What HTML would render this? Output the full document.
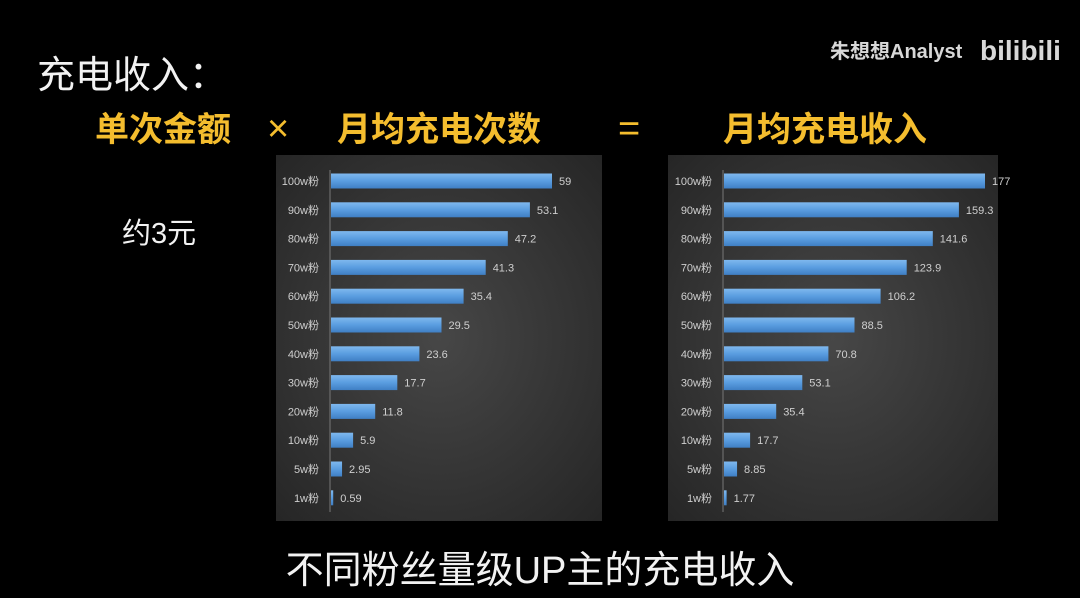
<!DOCTYPE html>
<html><head><meta charset="utf-8"><style>
html,body{margin:0;padding:0;background:#000;width:1080px;height:598px;overflow:hidden}
svg{display:block}
text{font-family:"Liberation Sans","Noto Sans CJK SC",sans-serif}
</style></head><body>
<svg id="s" width="1080" height="598" viewBox="0 0 1080 598" xmlns="http://www.w3.org/2000/svg">
<defs>
<radialGradient id="bg" cx="50%" cy="50%" r="70%">
<stop offset="0" stop-color="#474747"/><stop offset="1" stop-color="#262626"/>
</radialGradient>
<linearGradient id="bar" x1="0" y1="0" x2="0" y2="1">
<stop offset="0" stop-color="#7fb8ee"/><stop offset="0.5" stop-color="#5a9de0"/><stop offset="1" stop-color="#3f7fc4"/>
</linearGradient>
</defs>
<text x="37" y="88" font-size="38" fill="#f2f2f2">充电收入：</text>
<g font-size="34" fill="#f4bd2e" font-weight="bold">
<text x="95" y="141">单次金额</text>
<text x="267" y="141" font-weight="normal" font-size="38">×</text>
<text x="337" y="141">月均充电次数</text>
<text x="618" y="141" font-weight="normal" font-size="38">=</text>
<text x="723" y="141">月均充电收入</text>
</g>
<text x="122" y="243" font-size="29" fill="#f2f2f2">约3元</text>
<text x="830" y="58" font-size="20" fill="#d8d8d8" font-weight="bold">朱想想Analyst</text>
<text x="980" y="60" font-size="28" fill="#d8d8d8" font-weight="bold">bilibili</text>
<text x="540" y="583" font-size="38" fill="#f2f2f2" text-anchor="middle">不同粉丝量级UP主的充电收入</text>
<rect x="276" y="155" width="326" height="366" fill="url(#bg)"/>
<rect x="668" y="155" width="330" height="366" fill="url(#bg)"/>
<g id="c"></g>
</svg>
<script>
var labels=["100w粉","90w粉","80w粉","70w粉","60w粉","50w粉","40w粉","30w粉","20w粉","10w粉","5w粉","1w粉"];
var a=["59","53.1","47.2","41.3","35.4","29.5","23.6","17.7","11.8","5.9","2.95","0.59"];
var b=["177","159.3","141.6","123.9","106.2","88.5","70.8","53.1","35.4","17.7","8.85","1.77"];
var h="";
function chart(x0,sc,vals){
 h+='<line x1="'+(x0-1)+'" y1="170" x2="'+(x0-1)+'" y2="512" stroke="#777" stroke-width="1"/>';
 for(var i=0;i<12;i++){
  var yc=181+i*28.8, w=parseFloat(vals[i])*sc;
  h+='<rect x="'+x0+'" y="'+(yc-7.5)+'" width="'+Math.max(w,2)+'" height="15" fill="url(#bar)"/>';
  h+='<text x="'+(x0-12)+'" y="'+(yc+4)+'" font-size="11" fill="#cfcfcf" text-anchor="end">'+labels[i]+'</text>';
  h+='<text x="'+(x0+Math.max(w,2)+7)+'" y="'+(yc+4)+'" font-size="11" fill="#cfcfcf">'+vals[i]+'</text>';
 }
}
chart(331,221/59,a);
chart(724,261/177,b);
document.getElementById("c").innerHTML=h;
</script>
</body></html>
